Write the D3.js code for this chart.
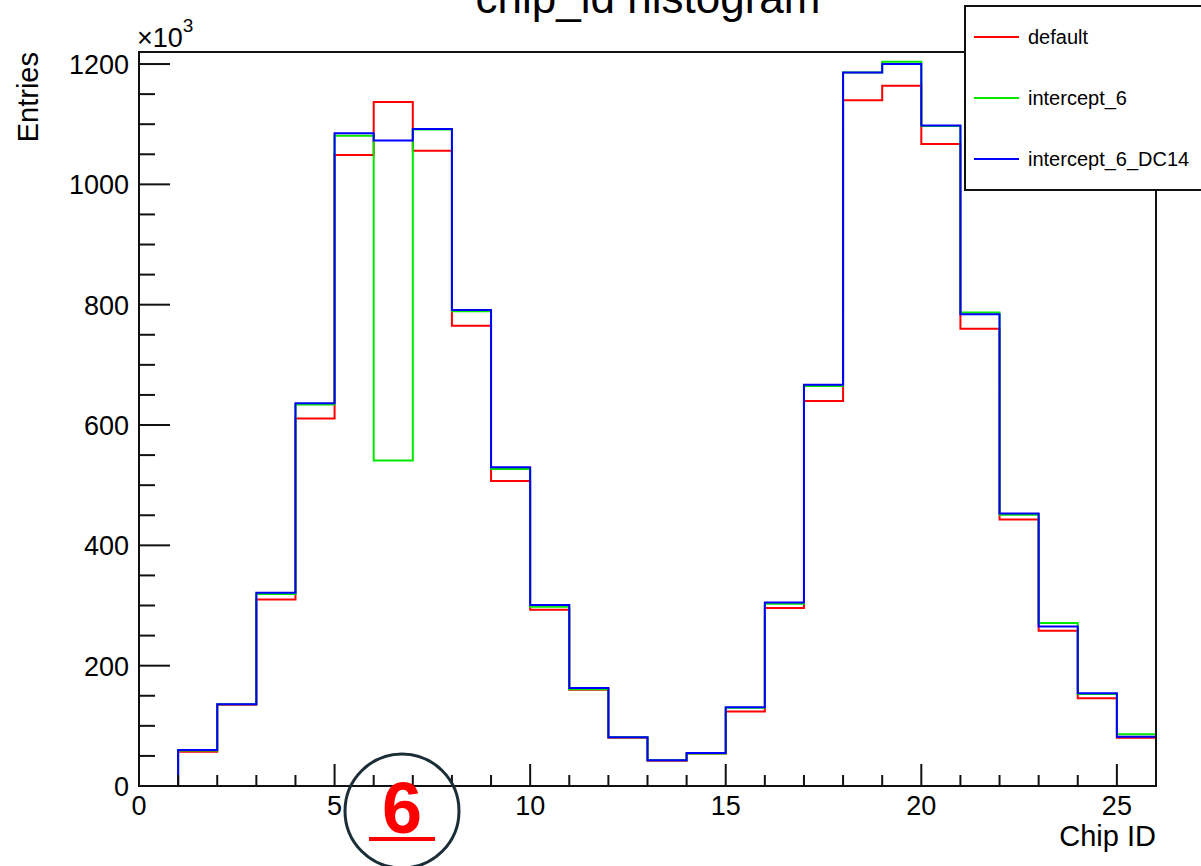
<!DOCTYPE html>
<html>
<head>
<meta charset="utf-8">
<script src="https://cdn.jsdelivr.net/npm/d3@7"></script>
<style>
  html, body { margin: 0; padding: 0; background: #fff; }
  svg { display: block; font-family: "Liberation Sans", Arial, sans-serif; }
</style>
</head>
<body>
<div id="chart"></div>
<script>
// bin contents (x 10^3), bins [i, i+1) for chip id 0..25
const chipBins = d3.range(0, 26);
const defaultVals = [0, 57, 135, 310, 611, 1049, 1137, 1056, 765, 507, 293, 160, 80, 42, 54, 124, 296, 640, 1140, 1164, 1067, 760, 443, 258, 146, 80];
const intercept6Vals = [0, 59, 136, 319, 634, 1081, 541, 1091, 789, 527, 298, 161, 81, 43, 54, 130, 303, 665, 1186, 1204, 1097, 787, 451, 271, 153, 86];
const interceptDC14Vals = [0, 60, 136, 321, 636, 1085, 1073, 1092, 791, 530, 301, 163, 81, 43, 55, 131, 305, 667, 1186, 1200, 1098, 784, 453, 265, 154, 82];

const seriesNames = ["default", "intercept_6", "intercept_6_DC14"];
const seriesColors = ["#ff0000", "#00e600", "#0000ff"];
const yTickLabels = [0, 200, 400, 600, 800, 1000, 1200];
const xTickLabels = [0, 5, 10, 15, 20, 25];

const W = 1201, H = 866;
const padL = 139, padR = 1156, padT = 52, padB = 786;

const svg = d3.select("#chart").append("svg")
  .attr("width", W).attr("height", H);

const x = d3.scaleLinear().domain([0, 26]).range([padL, padR]);
const y = d3.scaleLinear().domain([0, 1220]).range([padB, padT]);

// title (partly cut at the top)
svg.append("text")
  .attr("x", 648).attr("y", 13)
  .attr("text-anchor", "middle")
  .attr("font-size", 44)
  .text("chip_id histogram");

// histograms
const line = d3.line()
  .x(d => x(d[0]))
  .y(d => y(d[1]))
  .curve(d3.curveStepAfter);

[defaultVals, intercept6Vals, interceptDC14Vals].forEach((vals, k) => {
  const pts = chipBins.map(i => [i, vals[i]]);
  pts.push([26, vals[25]]);
  pts.unshift([0, 0]);
  svg.append("path")
    .attr("d", line(pts))
    .attr("fill", "none")
    .attr("stroke", seriesColors[k])
    .attr("stroke-width", 2);
});

// frame
svg.append("rect")
  .attr("x", padL).attr("y", padT)
  .attr("width", padR - padL).attr("height", padB - padT)
  .attr("fill", "none")
  .attr("stroke", "#111")
  .attr("stroke-width", 2);

// y axis ticks
const yMinor = d3.range(0, 1201, 50);
svg.append("g").selectAll("line")
  .data(yMinor)
  .join("line")
  .attr("x1", padL)
  .attr("x2", d => padL + (d % 200 === 0 ? 31 : 16))
  .attr("y1", d => y(d)).attr("y2", d => y(d))
  .attr("stroke", "#111").attr("stroke-width", 2);

svg.append("g").selectAll("text")
  .data(yTickLabels)
  .join("text")
  .attr("x", 129)
  .attr("y", d => y(d) + 10)
  .attr("text-anchor", "end")
  .attr("font-size", 27)
  .text(d => d);

// x axis ticks
const xMinor = d3.range(0, 27, 1);
svg.append("g").selectAll("line")
  .data(xMinor)
  .join("line")
  .attr("x1", d => x(d)).attr("x2", d => x(d))
  .attr("y1", padB)
  .attr("y2", d => padB - (d % 5 === 0 ? 22 : 11))
  .attr("stroke", "#111").attr("stroke-width", 2);

svg.append("g").selectAll("text")
  .data(xTickLabels)
  .join("text")
  .attr("x", d => x(d))
  .attr("y", 815)
  .attr("text-anchor", "middle")
  .attr("font-size", 27)
  .text(d => d);

// exponent
const expo = svg.append("text")
  .attr("x", 137).attr("y", 47)
  .attr("font-size", 27);
expo.append("tspan").text("\u00d710");
expo.append("tspan").attr("dy", -15).attr("font-size", 19).text("3");

// axis titles
svg.append("text")
  .attr("transform", `translate(38, ${padT}) rotate(-90)`)
  .attr("text-anchor", "end")
  .attr("font-size", 29)
  .text("Entries");

svg.append("text")
  .attr("x", padR).attr("y", 846)
  .attr("text-anchor", "end")
  .attr("font-size", 29)
  .text("Chip ID");

// legend
const legend = svg.append("g");
legend.append("rect")
  .attr("x", 965).attr("y", 6)
  .attr("width", 260).attr("height", 184)
  .attr("fill", "#fff")
  .attr("stroke", "#111")
  .attr("stroke-width", 2);
const rowY = [37, 98, 159];
seriesNames.forEach((name, k) => {
  legend.append("line")
    .attr("x1", 974).attr("x2", 1019)
    .attr("y1", rowY[k]).attr("y2", rowY[k])
    .attr("stroke", seriesColors[k]).attr("stroke-width", 2);
  legend.append("text")
    .attr("x", 1028).attr("y", rowY[k] + 7)
    .attr("font-size", 20)
    .text(name);
});

// circled annotation
svg.append("circle")
  .attr("cx", 402).attr("cy", 811).attr("r", 57)
  .attr("fill", "none")
  .attr("stroke", "#1b2e38")
  .attr("stroke-width", 3);
svg.append("text")
  .attr("x", 402).attr("y", 833)
  .attr("text-anchor", "middle")
  .attr("font-size", 72)
  .attr("font-weight", "bold")
  .attr("fill", "#ff0000")
  .text("6");
svg.append("line")
  .attr("x1", 369).attr("x2", 435)
  .attr("y1", 839).attr("y2", 839)
  .attr("stroke", "#ff0000").attr("stroke-width", 4);
</script>
</body>
</html>
